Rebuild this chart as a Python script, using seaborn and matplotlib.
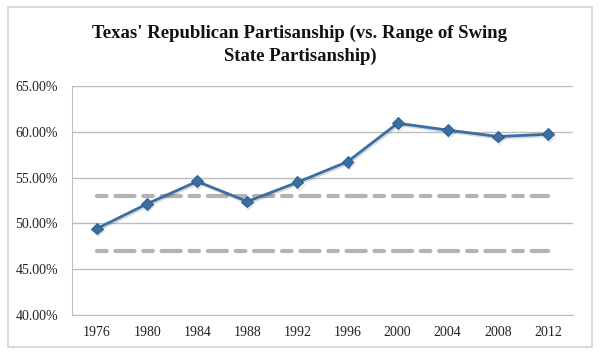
import matplotlib
matplotlib.use("Agg")
import matplotlib.pyplot as plt
import matplotlib.patheffects as pe
from matplotlib.patches import Rectangle
from matplotlib.ticker import FuncFormatter
import seaborn as sns
import pandas as pd

# Datos
years = ["1976", "1980", "1984", "1988", "1992", "1996", "2000", "2004", "2008", "2012"]
texas_gop = [49.45, 52.15, 54.6, 52.4, 54.5, 56.75, 60.95, 60.2, 59.5, 59.75]
swing_upper = [53.0] * len(years)
swing_lower = [47.0] * len(years)

df = pd.DataFrame({"year": years, "texas": texas_gop,
                   "upper": swing_upper, "lower": swing_lower})
df["x"] = range(len(df))

sns.set_style("white")
plt.rcParams["font.family"] = ["Liberation Serif", "DejaVu Serif"]

fig = plt.figure(figsize=(6, 3.56), dpi=100)
ax = fig.add_axes([0.12, 0.115, 0.835, 0.643])

# borde exterior del grafico
fig.patches.append(Rectangle((8 / 600, 1 - 347 / 356), 584 / 600, 340 / 356,
                             transform=fig.transFigure, fill=False,
                             edgecolor="#d4d4d4", linewidth=1.2))

for col in ["upper", "lower"]:
    sns.lineplot(data=df, x="x", y=col, ax=ax, color="#b3b3b3", linewidth=3,
                 dashes=False, zorder=2)
for ln in ax.lines:
    ln.set_dashes([2.3, 2.1, 4.6, 2.1])
    ln.set_dash_capstyle("round")

sns.lineplot(data=df, x="x", y="texas", ax=ax, color="#3a6fa3", linewidth=2,
             marker="D", markersize=6, markeredgecolor="#2e5f92",
             zorder=3,
             path_effects=[pe.SimpleLineShadow(offset=(0.8, -1.2), alpha=0.15),
                           pe.Normal()])

ax.set_xlim(-0.5, len(years) - 0.5)
ax.set_ylim(40, 65)
ax.set_yticks([40, 45, 50, 55, 60, 65])
ax.yaxis.set_major_formatter(FuncFormatter(lambda v, p: f"{v:.2f}%"))
ax.set_xticks(df["x"])
ax.set_xticklabels(years)
ax.tick_params(axis="both", labelsize=10, colors="#222222", length=0, pad=8)
ax.tick_params(axis="y", pad=10)
ax.set_xlabel("")
ax.set_ylabel("")

ax.grid(axis="y", color="#bdbdbd", linewidth=1)
for s in ["top", "right"]:
    ax.spines[s].set_visible(False)
ax.spines["left"].set_color("#bdbdbd")
ax.spines["bottom"].set_color("#bdbdbd")

fig.text(0.5, 1 - 45 / 356, "Texas' Republican Partisanship (vs. Range of Swing\nState Partisanship)",
         ha="center", va="center", fontsize=13.5, fontweight="bold",
         linespacing=1.4, color="#111111")

fig.savefig("out.png", dpi=100)
